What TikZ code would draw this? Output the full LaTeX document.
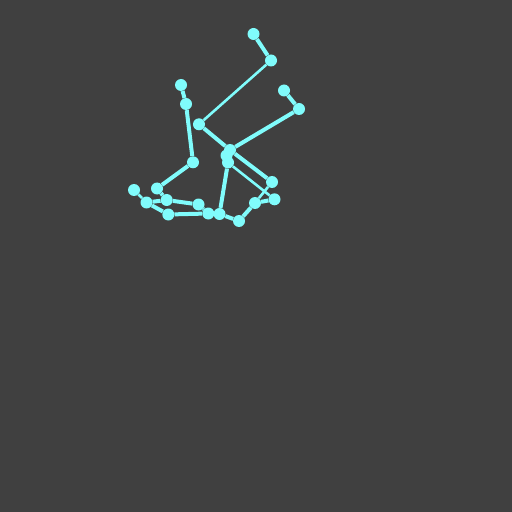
\documentclass[tikz,border=0pt]{standalone}
\usetikzlibrary{positioning}
\definecolor{backdrop}{HTML}{404040}
\definecolor{limbcol}{RGB}{128,252,252}

\begin{document}
\begin{tikzpicture}[
  x=1bp, y=-1bp,
  joint/.style={circle, fill=limbcol, inner sep=0pt, minimum size=12bp},
  limb/.style={draw=limbcol, line width=4bp},
  thinlimb/.style={draw=limbcol, line width=2.6bp},
]
  \fill[backdrop] (0,0) rectangle (512,512);
  \useasboundingbox (0,0) rectangle (512,512);

  % upper joints
  \node[joint] (headtop)  at (253.5,34)  {};
  \node[joint] (head)     at (271,60.5)  {};
  \node[joint] (lhand)    at (181,85)    {};
  \node[joint] (lwrist)   at (186,104)   {};
  \node[joint] (rhand)    at (284,90.5)  {};
  \node[joint] (rwrist)   at (299,109)   {};
  \node[joint] (shoulder) at (199,124.3) {};
  \node[joint] (neck)     at (230,150)   {};
  \node[joint] (chest)    at (226.5,155.5) {};
  \node[joint] (hip)      at (228,162.5) {};
  \node[joint] (lelbow)   at (193,162.3) {};
  % lower joints
  \node[joint] (rknee)    at (272,182)   {};
  \node[joint] (rtoe)     at (274.5,199.3) {};
  \node[joint] (rankle)   at (255,203)   {};
  \node[joint] (rheel)    at (239,221)   {};
  \node[joint] (lknee)    at (219.5,214) {};
  \node[joint] (lankle)   at (208.3,213.5) {};
  \node[joint] (lheel)    at (198.5,204.5) {};
  \node[joint] (ltoe)     at (168.3,214.5) {};
  \node[joint] (lfoot)    at (166.7,200) {};
  \node[joint] (lsole)    at (146.5,202.5) {};
  \node[joint] (ltip)     at (134,190)   {};
  \node[joint] (lpalm)    at (157,188.5) {};

  \draw[limb] (headtop) -- (head);
  \draw[thinlimb] (head) -- (shoulder);
  \draw[limb] (shoulder) -- (neck);
  \draw[limb] (neck) -- (rwrist) -- (rhand);
  \draw[limb] (neck) -- (chest) -- (hip);
  \draw[limb] (neck) -- (rknee);
  \draw[thinlimb] (hip) -- (rtoe);
  \draw[thinlimb] (rknee) -- (rankle);
  \draw[limb] (rtoe) -- (rankle) -- (rheel) -- (lknee);
  \draw[limb] (hip) -- (lknee);
  \draw[limb] (lknee) -- (lankle);
  \draw[limb] (lankle) -- (lheel) -- (lfoot);
  \draw[limb] (lankle) -- (ltoe) -- (lsole);
  \draw[limb] (lsole) -- (lfoot);
  \draw[thinlimb] (lsole) -- (ltip);
  \draw[limb] (lfoot) -- (lpalm) -- (lelbow);
  \draw[limb] (lelbow) -- (lwrist) -- (lhand);
\end{tikzpicture}
\end{document}
